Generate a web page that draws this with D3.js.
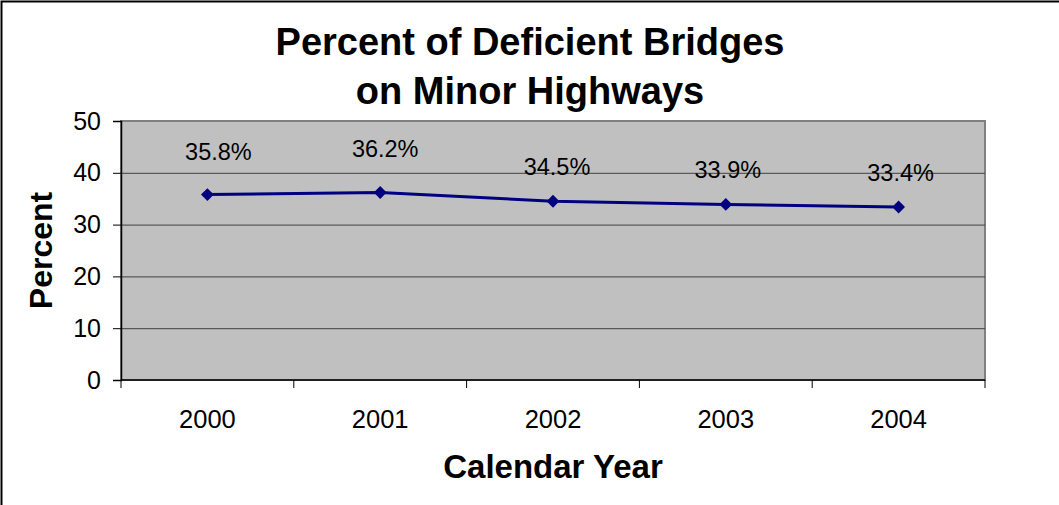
<!DOCTYPE html>
<html>
<head>
<meta charset="utf-8">
<script src="https://cdn.jsdelivr.net/npm/d3@7"></script>
<style>
  body { margin: 0; background: #fff; }
  svg text { font-family: "Liberation Sans", Arial, sans-serif; }
</style>
</head>
<body>
<svg id="chart" width="1059" height="505"></svg>
<script>
// chart data
const years = ["2000", "2001", "2002", "2003", "2004"];
const percents = [35.8, 36.2, 34.5, 33.9, 33.4];
const yTicks = [0, 10, 20, 30, 40, 50];
const titleLines = ["Percent of Deficient Bridges", "on Minor Highways"];

// label nudges, the way Excel happened to place them
const labelDx = [11, 5, 4, 2, 2];
const labelLift = [35, 35, 26, 26, 26];

const svg = d3.select("#chart");
const width = +svg.attr("width");
const height = +svg.attr("height");
const m = { left: 121, right: 985, top: 121, bottom: 380 };

// outer frame (only top/left visible in the original)
svg.append("path")
  .attr("d", `M1.5,${height} V1.5 H${width}`)
  .attr("fill", "none")
  .attr("stroke", "#000")
  .attr("stroke-width", 2);

const x = d3.scaleBand().domain(years).range([m.left, m.right]);
const y = d3.scaleLinear().domain([0, 50]).range([m.bottom, m.top]);

// plot area
svg.append("rect")
  .attr("x", m.left).attr("y", m.top)
  .attr("width", m.right - m.left).attr("height", m.bottom - m.top)
  .attr("fill", "#c0c0c0")
  .attr("stroke", "#808080")
  .attr("stroke-width", 2);

// gridlines
svg.append("g")
  .selectAll("line")
  .data(yTicks.filter(t => t > 0 && t < 50))
  .join("line")
  .attr("x1", m.left).attr("x2", m.right)
  .attr("y1", d => y(d) + 0.5).attr("y2", d => y(d) + 0.5)
  .attr("stroke", "#404040")
  .attr("stroke-width", 1);

// y axis
const yAxis = svg.append("g")
  .attr("transform", `translate(${m.left},0)`)
  .call(d3.axisLeft(y).tickValues(yTicks).tickSize(8).tickPadding(12));
yAxis.select(".domain").attr("stroke", "#000").attr("stroke-width", 1.5);
yAxis.selectAll(".tick line").attr("stroke", "#000");
yAxis.selectAll("text").attr("font-size", 25).attr("fill", "#000");

// x axis: ticks on category boundaries
const xAxis = svg.append("g").attr("transform", `translate(0,${m.bottom})`);
xAxis.append("line")
  .attr("x1", m.left).attr("x2", m.right)
  .attr("stroke", "#000").attr("stroke-width", 1.5);
const bounds = years.map(d => x(d)).concat([x(years[years.length - 1]) + x.bandwidth()]);
xAxis.selectAll(".bt")
  .data(bounds)
  .join("line")
  .attr("class", "bt")
  .attr("x1", d => d).attr("x2", d => d)
  .attr("y1", 0).attr("y2", 8)
  .attr("stroke", "#000");
xAxis.selectAll(".yl")
  .data(years)
  .join("text")
  .attr("class", "yl")
  .attr("x", d => x(d) + x.bandwidth() / 2)
  .attr("y", 48)
  .attr("text-anchor", "middle")
  .attr("font-size", 25.5)
  .text(d => d);

// line
const pts = years.map((d, i) => [x(d) + x.bandwidth() / 2, y(percents[i])]);
svg.append("path")
  .datum(pts)
  .attr("d", d3.line())
  .attr("fill", "none")
  .attr("stroke", "#000080")
  .attr("stroke-width", 3);

// diamond markers
svg.append("g")
  .selectAll("path")
  .data(pts)
  .join("path")
  .attr("transform", d => `translate(${d[0]},${d[1]})`)
  .attr("d", d3.symbol(d3.symbolDiamond2, 105))
  .attr("fill", "#000080");

// data labels
svg.append("g")
  .selectAll("text")
  .data(percents)
  .join("text")
  .attr("x", (d, i) => pts[i][0] + labelDx[i])
  .attr("y", (d, i) => pts[i][1] - labelLift[i])
  .attr("text-anchor", "middle")
  .attr("font-size", 23.5)
  .text(d => d.toFixed(1) + "%");

// title
svg.append("text")
  .attr("text-anchor", "middle")
  .attr("font-size", 38)
  .attr("font-weight", "bold")
  .selectAll("tspan")
  .data(titleLines)
  .join("tspan")
  .attr("x", 530)
  .attr("y", (d, i) => 55 + i * 49)
  .text(d => d);

// axis titles
svg.append("text")
  .attr("x", (m.left + m.right) / 2)
  .attr("y", 478)
  .attr("text-anchor", "middle")
  .attr("font-size", 33)
  .attr("font-weight", "bold")
  .text("Calendar Year");

svg.append("text")
  .attr("transform", `translate(52,${(m.top + m.bottom) / 2}) rotate(-90)`)
  .attr("text-anchor", "middle")
  .attr("font-size", 32)
  .attr("font-weight", "bold")
  .text("Percent");
</script>
</body>
</html>
